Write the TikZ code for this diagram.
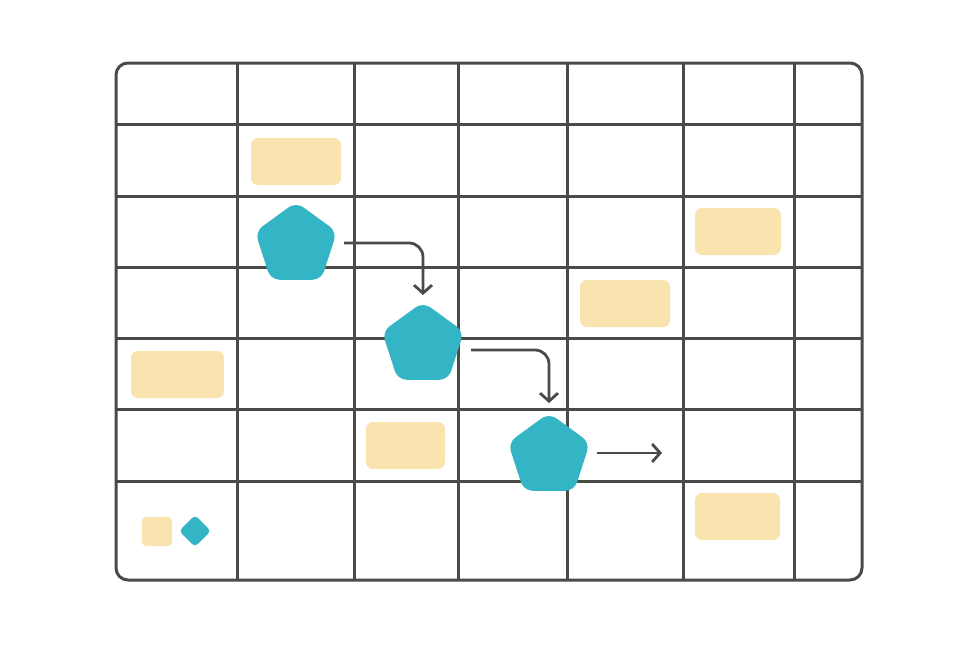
\documentclass[tikz,border=0pt]{standalone}
\usetikzlibrary{shapes.geometric,arrows.meta}
\begin{document}
\begin{tikzpicture}[x=1pt,y=-1pt,
  grid/.style={draw=gl,line width=3pt},
  box/.style={fill=yl,rounded corners=7pt},
  pent/.style={regular polygon,regular polygon sides=5,fill=tl,minimum size=86pt,inner sep=0,rounded corners=9pt},
  arr/.style={draw=gl,line width=2.8pt,-{Straight Barb[length=8pt,width=18pt,line width=2.8pt]},rounded corners=14pt}]
\definecolor{gl}{HTML}{4A4A46}
\definecolor{yl}{HTML}{F9E3AE}
\definecolor{tl}{HTML}{33B5C5}
\useasboundingbox (0,0) rectangle (980,653);
\fill[white] (0,0) rectangle (980,653);
\foreach \x in {237,354,458,567,683,794} \draw[grid] (\x,63) -- (\x,580);
\foreach \y in {124,196,267,338,409,481} \draw[grid] (116,\y) -- (862,\y);
\draw[grid,rounded corners=12pt] (116,63) rectangle (862,580);
\fill[box] (251,138) rectangle (341,185);
\fill[box] (695,208) rectangle (781,255);
\fill[box] (580,280) rectangle (670,327);
\fill[box] (131,351) rectangle (224,398);
\fill[box] (366,422) rectangle (445,469);
\fill[box] (695,493) rectangle (780,540);
\fill[box,rounded corners=4pt] (142,517) rectangle (172,546);
\node[draw=none,fill=tl,diamond,minimum size=32pt,inner sep=0,rounded corners=4pt] (d) at (195,531) {};
\node[pent] (p1) at (296,245) {};
\node[pent] (p2) at (423,345) {};
\node[pent] (p3) at (549,456) {};
\coordinate (a1) at (344,243); \coordinate (b1) at (423,295);
\coordinate (a2) at (471,350); \coordinate (b2) at (549,403);
\coordinate (a3) at (597,453); \coordinate (b3) at (662,453);
\draw[arr] (a1) -| (b1);
\draw[arr] (a2) -| (b2);
\draw[arr] (a3) -- (b3);
\end{tikzpicture}
\end{document}
